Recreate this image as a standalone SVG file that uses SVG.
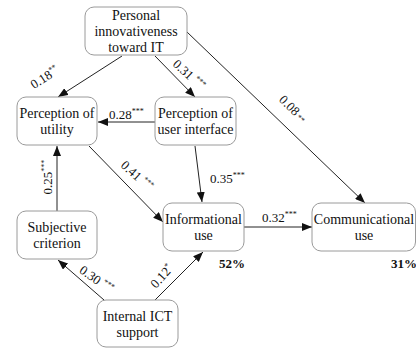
<svg xmlns="http://www.w3.org/2000/svg" width="416" height="349" viewBox="0 0 416 349">
  <style>
    .box { fill: #ffffff; stroke: #9a9a9a; stroke-width: 1; }
    .nt { font-family: 'Liberation Serif', 'DejaVu Serif', 'Times New Roman', serif; font-size: 14px; fill: #111; text-anchor: middle; }
    .lbl { font-family: 'Liberation Serif', 'DejaVu Serif', 'Times New Roman', serif; font-size: 13px; fill: #111; }
    .sup { font-size: 8px; }
    .pct { font-family: 'Liberation Serif', 'DejaVu Serif', 'Times New Roman', serif; font-size: 13px; font-weight: bold; fill: #111; }
    .edge { stroke: #222; stroke-width: 1; fill: none; marker-end: url(#arrow); }
  </style>
  <defs>
    <marker id="arrow" viewBox="0 0 10 8" refX="10" refY="4" markerWidth="10" markerHeight="8" markerUnits="userSpaceOnUse" orient="auto">
      <path d="M0,0 L10,4 L0,8 z" fill="#111"/>
    </marker>
  </defs>
  <rect width="416" height="349" fill="#ffffff"/>

  <g id="connectors">
    <line class="edge" x1="122" y1="56" x2="58" y2="97"/>
    <line class="edge" x1="155" y1="56" x2="195" y2="97"/>
    <line class="edge" x1="187" y1="32" x2="365" y2="203"/>
    <line class="edge" x1="155" y1="122" x2="98" y2="122"/>
    <line class="edge" x1="89" y1="146" x2="163" y2="222"/>
    <line class="edge" x1="195" y1="146" x2="202" y2="202"/>
    <line class="edge" x1="57" y1="211" x2="57" y2="146"/>
    <line class="edge" x1="244" y1="227" x2="312" y2="227"/>
    <line class="edge" x1="104" y1="300" x2="58" y2="260"/>
    <line class="edge" x1="155" y1="300" x2="203" y2="252"/>

    <text class="lbl" font-family="Liberation Serif, serif" transform="translate(47,81) rotate(-33)" text-anchor="middle">0.18<tspan class="sup" dy="-5">**</tspan></text>
    <text class="lbl" font-family="Liberation Serif, serif" transform="translate(186,78) rotate(43)" text-anchor="middle">0.31 <tspan class="sup" dy="-5">***</tspan></text>
    <text class="lbl" font-family="Liberation Serif, serif" transform="translate(290,112) rotate(44)" text-anchor="middle">0.08<tspan class="sup"> **</tspan></text>
    <text class="lbl" font-family="Liberation Serif, serif" x="109" y="119">0.28<tspan class="sup" dy="-5">***</tspan></text>
    <text class="lbl" font-family="Liberation Serif, serif" transform="translate(134,179) rotate(42)" text-anchor="middle">0.41 <tspan class="sup" dy="-5">***</tspan></text>
    <text class="lbl" font-family="Liberation Serif, serif" x="210" y="183">0.35<tspan class="sup" dy="-5">***</tspan></text>
    <text class="lbl" font-family="Liberation Serif, serif" transform="translate(52,177) rotate(-90)" text-anchor="middle">0.25<tspan class="sup" dy="-5">***</tspan></text>
    <text class="lbl" font-family="Liberation Serif, serif" x="262" y="222">0.32<tspan class="sup" dy="-5">***</tspan></text>
    <text class="lbl" font-family="Liberation Serif, serif" transform="translate(94,283) rotate(35)" text-anchor="middle">0.30 <tspan class="sup" dy="-5">***</tspan></text>
    <text class="lbl" font-family="Liberation Serif, serif" transform="translate(165,279) rotate(-48)" text-anchor="middle">0.12<tspan class="sup" dy="-5">*</tspan></text>
  </g>

  <g id="personal-innovativeness" font-family="Liberation Serif, serif">
    <rect class="box" x="85" y="7" width="102" height="48" rx="9"/>
    <text class="nt" x="136" y="20">Personal</text>
    <text class="nt" x="136" y="36">innovativeness</text>
    <text class="nt" x="136" y="52">toward IT</text>
  </g>
  <g id="perception-utility" font-family="Liberation Serif, serif">
    <rect class="box" x="17" y="97" width="80" height="48" rx="9"/>
    <text class="nt" x="57" y="118">Perception of</text>
    <text class="nt" x="57" y="134">utility</text>
  </g>
  <g id="perception-interface" font-family="Liberation Serif, serif">
    <rect class="box" x="155" y="97" width="81" height="48" rx="9"/>
    <text class="nt" x="195.5" y="118">Perception of</text>
    <text class="nt" x="195.5" y="134">user interface</text>
  </g>
  <g id="subjective-criterion" font-family="Liberation Serif, serif">
    <rect class="box" x="17" y="211" width="80" height="48" rx="9"/>
    <text class="nt" x="57" y="232">Subjective</text>
    <text class="nt" x="57" y="248">criterion</text>
  </g>
  <g id="informational-use" font-family="Liberation Serif, serif">
    <rect class="box" x="163" y="203" width="81" height="48" rx="9"/>
    <text class="nt" x="203.5" y="224">Informational</text>
    <text class="nt" x="203.5" y="240">use</text>
    <text class="pct" x="232" y="268" text-anchor="middle">52%</text>
  </g>
  <g id="communicational-use" font-family="Liberation Serif, serif">
    <rect class="box" x="312" y="203" width="103.5" height="48" rx="9"/>
    <text class="nt" x="364" y="224">Communicational</text>
    <text class="nt" x="364" y="240">use</text>
    <text class="pct" x="417" y="268" text-anchor="end">31%</text>
  </g>
  <g id="internal-ict-support" font-family="Liberation Serif, serif">
    <rect class="box" x="97" y="300" width="81" height="47" rx="9"/>
    <text class="nt" x="137.5" y="321">Internal ICT</text>
    <text class="nt" x="137.5" y="337">support</text>
  </g>
</svg>
